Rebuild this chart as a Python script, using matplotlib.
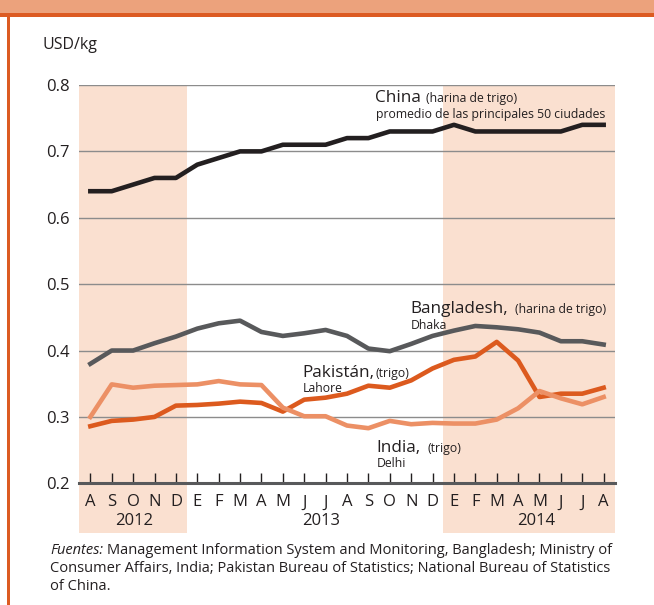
"""Precios del trigo y la harina de trigo en Asia, 2012-2014."""
import numpy as np
import matplotlib.pyplot as plt
from matplotlib.patches import Rectangle

plt.rcParams['font.family'] = ['Open Sans', 'DejaVu Sans']

# --- data -----------------------------------------------------------------
months = ['A', 'S', 'O', 'N', 'D', 'E', 'F', 'M', 'A', 'M', 'J', 'J', 'A',
          'S', 'O', 'N', 'D', 'E', 'F', 'M', 'A', 'M', 'J', 'J', 'A']
years = ['2012', '2013', '2014']
y_ticks = [0.2, 0.3, 0.4, 0.5, 0.6, 0.7, 0.8]

china = [0.64, 0.64, 0.65, 0.66, 0.66, 0.68, 0.69, 0.70, 0.70, 0.71, 0.71,
         0.71, 0.72, 0.72, 0.73, 0.73, 0.73, 0.74, 0.73, 0.73, 0.73, 0.73,
         0.73, 0.74, 0.74]
bangladesh = [0.380, 0.400, 0.400, 0.411, 0.421, 0.433, 0.441, 0.445, 0.428,
              0.422, 0.426, 0.431, 0.422, 0.403, 0.399, 0.410, 0.422, 0.430,
              0.437, 0.435, 0.432, 0.427, 0.414, 0.414, 0.409]
pakistan = [0.286, 0.294, 0.296, 0.300, 0.317, 0.318, 0.320, 0.323, 0.321,
            0.308, 0.326, 0.329, 0.335, 0.347, 0.344, 0.355, 0.373, 0.386,
            0.391, 0.413, 0.385, 0.330, 0.335, 0.335, 0.344]
india = [0.300, 0.349, 0.344, 0.347, 0.348, 0.349, 0.354, 0.349, 0.348,
         0.314, 0.301, 0.301, 0.287, 0.283, 0.294, 0.289, 0.291, 0.290,
         0.290, 0.296, 0.313, 0.339, 0.328, 0.319, 0.330]

# --- colours --------------------------------------------------------------
C_TEXT = '#231f20'
C_CHINA = '#231f20'
C_BGD = '#58595b'
C_PAK = '#dc5a1e'
C_IND = '#ec9065'
C_SHADE = '#fae0d0'
C_BAND = '#eca27c'
C_RULE = '#dc5b22'

W, H = 654, 605


def fx(px):
    return px / W


def fy(px):
    return 1 - px / H


fig = plt.figure(figsize=(W / 100, H / 100), dpi=100)

# header band and left rule
fig.add_artist(Rectangle((0, fy(13)), 1, 13 / H, transform=fig.transFigure,
                         color=C_BAND, lw=0))
fig.add_artist(Rectangle((0, fy(17.3)), 1, 4.6 / H, transform=fig.transFigure,
                         color=C_RULE, lw=0))
fig.add_artist(Rectangle((fx(7.3), 0), 2.7 / W, fy(17.3),
                         transform=fig.transFigure, color=C_RULE, lw=0))

ax = fig.add_axes([fx(79), fy(483.3), fx(615) - fx(79), (483.3 - 85) / H])
x = np.arange(len(months))

# shaded years (extend below axis, behind the month labels)
for x0, x1 in [(-0.53, 4.5), (16.5, 24.53)]:
    ax.axvspan(x0, x1, ymin=-0.124, ymax=1, color=C_SHADE, lw=0, zorder=0,
               clip_on=False)

ax.plot(x, china, color=C_CHINA, lw=3.3, zorder=3)
ax.plot(x, bangladesh, color=C_BGD, lw=3.3, zorder=3)
ax.plot(x, pakistan, color=C_PAK, lw=3.3, zorder=3)
ax.plot(x, india, color=C_IND, lw=3.3, zorder=3)

ax.set_xlim(-0.53, 24.53)
ax.set_ylim(0.2, 0.8)
ax.set_yticks(y_ticks)
ax.set_yticklabels([f'{v:.1f}' for v in y_ticks])
ax.set_xticks(x)
ax.set_xticklabels(months)
ax.yaxis.grid(True, color='#8c8c8c', lw=1)
ax.set_axisbelow(True)
ax.patch.set_visible(False)
for side in ['top', 'right', 'left']:
    ax.spines[side].set_visible(False)
ax.spines['bottom'].set_color(C_BGD)
ax.spines['bottom'].set_linewidth(2.2)
ax.tick_params(axis='y', length=0, pad=6.5, labelsize=12, labelcolor=C_TEXT)
ax.tick_params(axis='x', direction='in', length=7, width=1, color=C_TEXT,
               pad=8, labelsize=12, labelcolor=C_TEXT)

for yr, pos in zip(years, [2.05, 10.8, 20.85]):
    ax.text(pos, -0.094, yr, transform=ax.get_xaxis_transform(), ha='center',
            va='center', fontsize=12, color=C_TEXT)

fig.text(fx(43), fy(49), 'USD/kg', fontsize=11.5, color=C_TEXT, va='baseline')


# series labels
def label(px, py, name, note, sub, gap):
    t = fig.text(fx(px), fy(py), name, fontsize=12.3, color=C_TEXT,
                 va='baseline')
    ax.annotate(note, xy=(1, 0), xycoords=t, xytext=(gap, 0.8),
                textcoords='offset points', va='bottom', fontsize=8.8,
                color=C_TEXT)
    fig.text(fx(px + 0.5), fy(py + 15.5), sub, fontsize=8.8, color=C_TEXT,
             va='baseline')


label(375, 102.3, 'China', '(harina de trigo)',
      'promedio de las principales 50 ciudades', 3.5)
label(410.7, 313.3, 'Bangladesh,', '(harina de trigo)', 'Dhaka', 5)
label(302.7, 376.7, 'Pakistán,', '(trigo)', 'Lahore', 0.5)
label(376.7, 451.7, 'India,', '(trigo)', 'Delhi', 4.5)

# sources
src = fig.text(fx(50), fy(554), 'Fuentes:', style='italic', fontsize=10.5,
               color=C_TEXT, va='baseline')
ax.annotate('Management Information System and Monitoring, Bangladesh; '
            'Ministry of', xy=(1, 0), xycoords=src, xytext=(3, 0),
            textcoords='offset points', va='bottom', fontsize=10.5,
            color=C_TEXT)
fig.text(fx(50), fy(572),
         'Consumer Affairs, India; Pakistan Bureau of Statistics; '
         'National Bureau of Statistics',
         fontsize=10.5, color=C_TEXT, va='baseline')
fig.text(fx(50), fy(590), 'of China.', fontsize=10.5, color=C_TEXT,
         va='baseline')

fig.savefig('out.png', dpi=100)
